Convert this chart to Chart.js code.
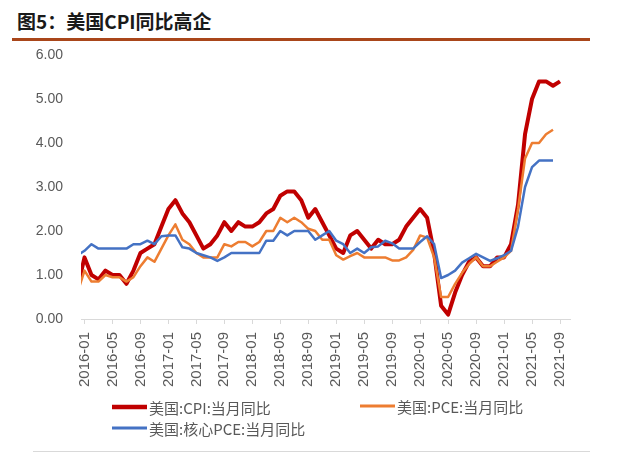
<!DOCTYPE html>
<html><head><meta charset="utf-8">
<script src="https://cdn.jsdelivr.net/npm/chart.js@4.4.0/dist/chart.umd.min.js"></script>
<style>
html,body{margin:0;padding:0;background:#fff;}
#wrap{position:relative;width:622px;height:454px;overflow:hidden;}
#title{position:absolute;left:17px;top:8px;font-family:"Noto Sans CJK SC";font-weight:bold;font-size:19px;color:#1a1a1a;line-height:26px;white-space:nowrap;}
#rule{position:absolute;left:12px;top:38px;width:578px;height:3px;background:#A9461A;}
#foot{position:absolute;left:33px;top:451px;width:557px;height:1px;background:#d9d9d9;}
canvas{position:absolute;left:0;top:0;}
</style></head>
<body><div id="wrap"><div id="title">图5：美国CPI同比高企</div><div id="rule"></div><div id="foot"></div><canvas id="c" width="622" height="454"></canvas></div>
<script>
const months = ['2015-12',
'2016-01','2016-02','2016-03','2016-04','2016-05','2016-06','2016-07','2016-08','2016-09','2016-10','2016-11','2016-12',
'2017-01','2017-02','2017-03','2017-04','2017-05','2017-06','2017-07','2017-08','2017-09','2017-10','2017-11','2017-12',
'2018-01','2018-02','2018-03','2018-04','2018-05','2018-06','2018-07','2018-08','2018-09','2018-10','2018-11','2018-12',
'2019-01','2019-02','2019-03','2019-04','2019-05','2019-06','2019-07','2019-08','2019-09','2019-10','2019-11','2019-12',
'2020-01','2020-02','2020-03','2020-04','2020-05','2020-06','2020-07','2020-08','2020-09','2020-10','2020-11','2020-12',
'2021-01','2021-02','2021-03','2021-04','2021-05','2021-06','2021-07','2021-08','2021-09'];

const tickLabels = ['2016-01','2016-05','2016-09','2017-01','2017-05','2017-09','2018-01','2018-05','2018-09',
'2019-01','2019-05','2019-09','2020-01','2020-05','2020-09','2021-01','2021-05','2021-09'];

const cpi = [0.7,
1.4,1.0,0.9,1.1,1.0,1.0,0.8,1.1,1.5,1.6,1.7,2.1,
2.5,2.7,2.4,2.2,1.9,1.6,1.7,1.9,2.2,2.0,2.2,2.1,
2.1,2.2,2.4,2.5,2.8,2.9,2.9,2.7,2.3,2.5,2.2,1.9,
1.6,1.5,1.9,2.0,1.8,1.6,1.8,1.7,1.7,1.8,2.1,2.3,
2.5,2.3,1.5,0.3,0.1,0.6,1.0,1.3,1.4,1.2,1.2,1.4,
1.4,1.7,2.6,4.2,5.0,5.4,5.4,5.3,5.4];

const pce = [0.6,
1.1,0.85,0.85,1.0,0.95,0.95,0.85,0.95,1.2,1.4,1.3,1.6,
1.9,2.15,1.8,1.7,1.5,1.4,1.4,1.4,1.7,1.65,1.75,1.75,
1.65,1.75,2.0,2.0,2.3,2.2,2.3,2.2,2.05,2.0,1.8,1.8,
1.45,1.35,1.43,1.5,1.4,1.4,1.4,1.4,1.33,1.33,1.4,1.57,
1.9,1.85,1.4,0.5,0.5,0.8,1.05,1.25,1.4,1.2,1.2,1.3,
1.4,1.55,2.5,3.65,4.0,4.0,4.2,4.3,null];

const corePce = [1.45,
1.55,1.7,1.6,1.6,1.6,1.6,1.6,1.7,1.7,1.78,1.7,1.88,
1.9,1.9,1.63,1.6,1.5,1.45,1.4,1.32,1.4,1.5,1.5,1.5,
1.5,1.5,1.78,1.78,2.0,1.9,2.0,2.0,2.0,1.8,1.9,2.0,
1.78,1.7,1.5,1.6,1.5,1.63,1.65,1.78,1.72,1.6,1.6,1.6,
1.75,1.88,1.7,0.93,1.0,1.1,1.28,1.38,1.48,1.4,1.32,1.38,
1.45,1.55,2.1,3.0,3.45,3.6,3.6,3.6,null];

const seriesNames = ['美国:CPI:当月同比','美国:PCE:当月同比','美国:核心PCE:当月同比'];

const toPts = arr => arr.map((v,i)=>({x:i,y:v}));
const tickIdx = tickLabels.map(l=>months.indexOf(l));

const legendPlugin = {
  id:'customLegend',
  afterDraw(chart){
    const ctx = chart.ctx;
    const pos = [[112,407],[360,406],[112,428]];
    chart.data.datasets.forEach((ds,k)=>{
      const [x,y] = pos[k];
      ctx.save();
      ctx.strokeStyle = ds.borderColor;
      ctx.lineWidth = k===0 ? 4.5 : 3;
      ctx.beginPath(); ctx.moveTo(x,y); ctx.lineTo(x+35,y); ctx.stroke();
      ctx.fillStyle = '#595959';
      ctx.font = '15px "Noto Sans CJK SC"';
      ctx.textBaseline = 'middle';
      ctx.fillText(ds.label, x+37, y+1);
      ctx.restore();
    });
  }
};

new Chart(document.getElementById('c'), {
  type:'line',
  data:{datasets:[
    {label:seriesNames[0], data:toPts(cpi), borderColor:'#C00000', borderWidth:4, order:2},
    {label:seriesNames[1], data:toPts(pce), borderColor:'#ED7D31', borderWidth:2.5, order:1},
    {label:seriesNames[2], data:toPts(corePce), borderColor:'#4472C4', borderWidth:2.5, order:0}
  ]},
  options:{
    responsive:false, animation:false, devicePixelRatio:1,
    layout:{padding:{left:21,top:55,right:52,bottom:45}},
    elements:{point:{radius:0}, line:{tension:0, borderJoinStyle:'round', borderCapStyle:'butt'}},
    datasets:{line:{clip:0, spanGaps:false}},
    plugins:{legend:{display:false}, tooltip:{enabled:false}},
    scales:{
      x:{type:'linear', min:0.5, max:70.43,
        afterBuildTicks(s){ s.ticks = tickIdx.map(v=>({value:v})); },
        afterFit(s){ s.height = 90; },
        grid:{drawOnChartArea:false, drawTicks:true, tickLength:5, color:'#d9d9d9'},
        border:{display:true, color:'#d9d9d9', width:1},
        ticks:{autoSkip:false, maxRotation:90, minRotation:90, padding:8, color:'#595959',
          font:{family:'"Liberation Sans"', size:15},
          callback:(v)=>months[v]}
      },
      y:{min:0, max:6,
        afterFit(s){ s.width = 60; },
        grid:{display:false, drawTicks:false},
        border:{display:false},
        ticks:{stepSize:1, padding:18, color:'#595959',
          font:{family:'"Liberation Sans"', size:14},
          callback:(v)=>v.toFixed(2)}
      }
    }
  },
  plugins:[legendPlugin]
});
</script>
</body></html>
